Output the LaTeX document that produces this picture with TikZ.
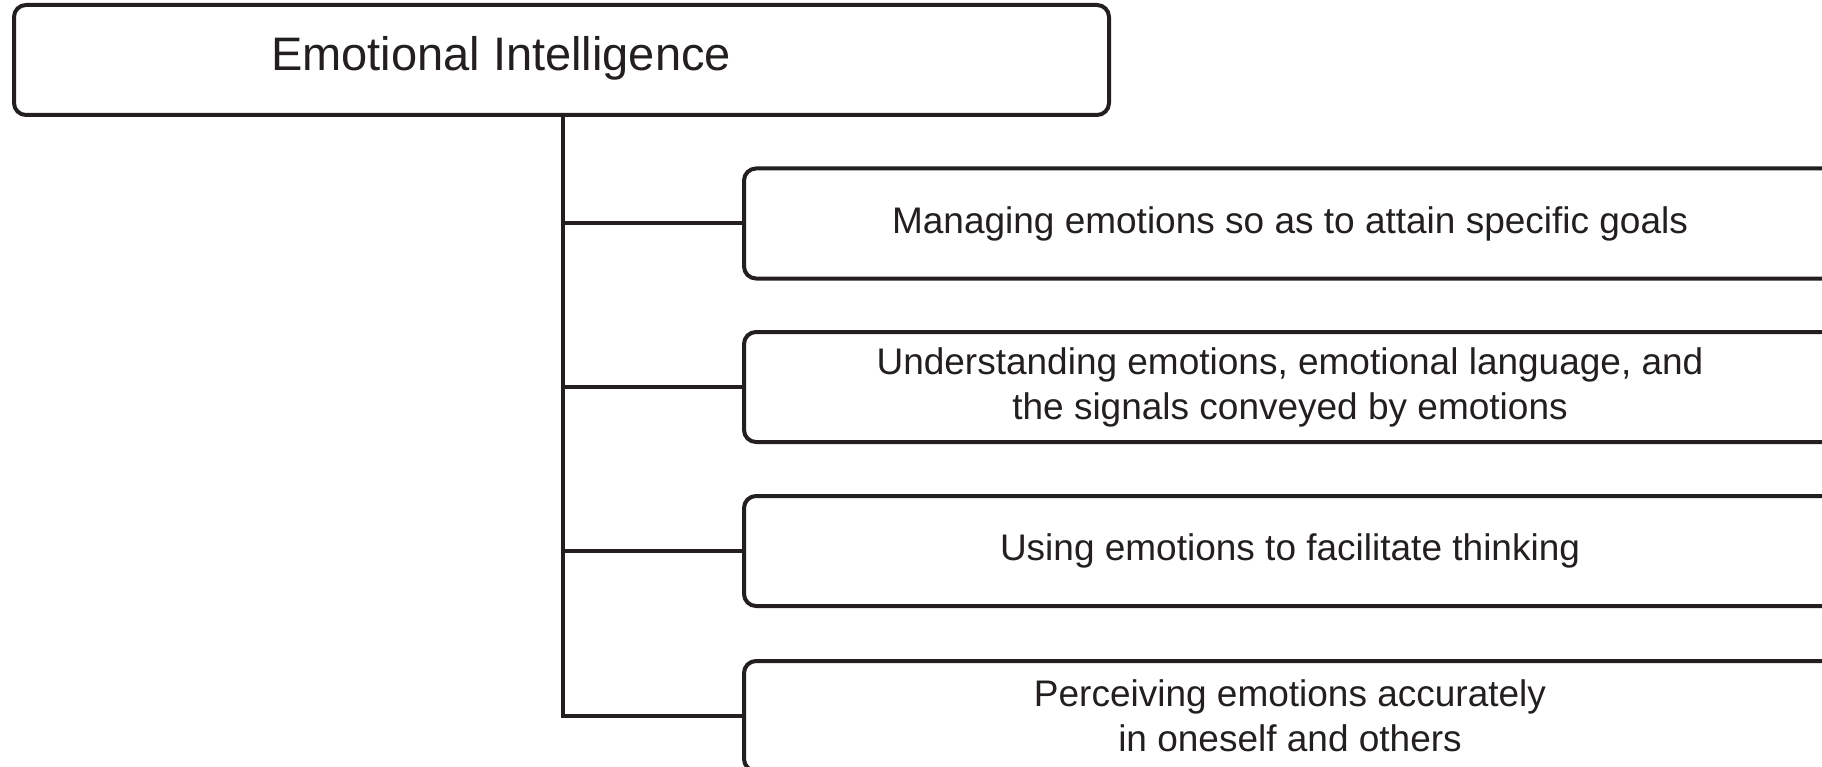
\documentclass[tikz,border=0pt]{standalone}
\usepackage{fontspec}
\setmainfont{Liberation Sans}
\definecolor{ink}{HTML}{231F20}
\begin{document}
\begin{tikzpicture}[x=1pt,y=-1pt,
  box/.style={draw=ink, line width=4pt, rounded corners=12pt, fill=white, inner sep=0pt},
  leaf/.style={box, minimum width=1092pt, minimum height=110pt, align=center,
    text=ink, font=\fontsize{37}{45}\selectfont},
  conn/.style={draw=ink, line width=4pt}]
\useasboundingbox (0,0) rectangle (1822,767);
\fill[white] (0,0) rectangle (1822,767);
\clip (0,0) rectangle (1822,767);
\node[box, minimum width=1095pt, minimum height=110pt] (root) at (561.5,60) {};
\node[text=ink, font=\fontsize{47}{56}\selectfont, inner sep=0pt] (roottext) at (501,58) {Emotional Intelligence};
\node[leaf] (b1) at (1290,223.5) {Managing emotions so as to attain specific goals};
\node[leaf] (b2) at (1290,387) {Understanding emotions, emotional language, and\\the signals conveyed by emotions};
\node[leaf] (b3) at (1290,551) {Using emotions to facilitate thinking};
\node[leaf] (b4) at (1290,716) {Perceiving emotions accurately\\in oneself and others};
\coordinate (trunk) at (563,0);
\draw[conn] (trunk |- root.south) |- (b4.west);
\draw[conn] (trunk |- b1.west) -- (b1.west);
\draw[conn] (trunk |- b2.west) -- (b2.west);
\draw[conn] (trunk |- b3.west) -- (b3.west);
\end{tikzpicture}
\end{document}
